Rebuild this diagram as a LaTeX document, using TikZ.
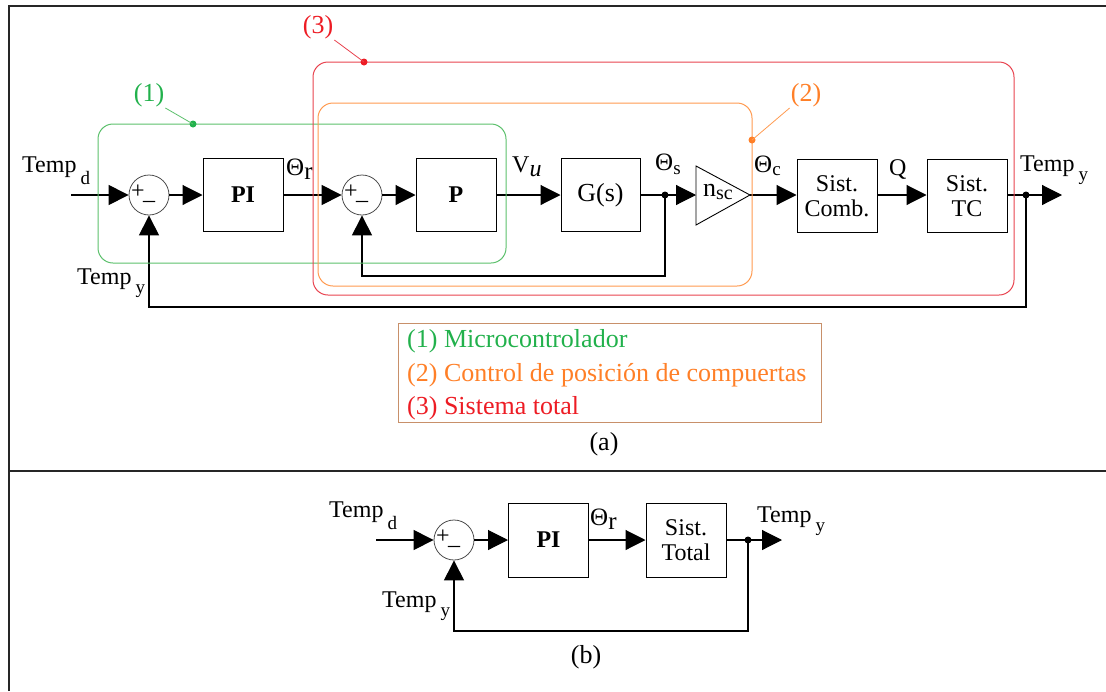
\documentclass[tikz,border=0pt]{standalone}
\usepackage{fontspec}
\setmainfont{Liberation Serif}
\usetikzlibrary{arrows.meta,calc}
\definecolor{cgreen}{HTML}{22B14C}
\definecolor{corange}{HTML}{FF7F27}
\definecolor{cred}{HTML}{ED1C24}
\definecolor{lgreen}{HTML}{5CC06C}
\definecolor{lorange}{HTML}{FF9A50}
\definecolor{lred}{HTML}{E8434F}
\definecolor{ltan}{HTML}{C8906A}
\newcommand\lowsub[2]{\raisebox{-#1}{\fontsize{19}{19}\selectfont #2}}
\begin{document}
\begin{tikzpicture}[x=1pt,y=-1pt,font=\fontsize{24}{25}\selectfont,
  block/.style={draw,line width=1pt,minimum width=80pt,minimum height=73pt,inner sep=0pt,align=center},
  sumnode/.style={circle,draw=black!70,line width=0.8pt,minimum size=40pt,inner sep=0pt},
  sig/.style={line width=1.1pt,-{Triangle[length=20pt,width=20pt]}},
  wire/.style={line width=1.1pt},
  junc/.style={circle,fill,inner sep=0pt,minimum size=7pt},
  lbl/.style={anchor=base west,inner sep=0pt},
  leg/.style={anchor=base west,inner sep=0pt,font=\fontsize{26}{26}\selectfont},
  pm/.style={inner sep=0pt,font=\fontsize{24}{24}\selectfont},
  grp/.style={line width=1pt,rounded corners=15pt},
  frame/.style={line width=2pt,draw=black!85}]
\useasboundingbox (0,0) rectangle (1106,691);
% frame
\draw[frame] (9,691) -- (9,6) -- (1106,6);
\draw[frame] (9,471) -- (1106,471);

% ---------- (a) ----------
\coordinate (in1) at (71,195);
\node[sumnode] (s1) at (149,195) {};
\node[block,font=\fontsize{24}{25}\selectfont\bfseries] (pi) at (243,195) {PI};
\node[sumnode] (s2) at (362,195) {};
\node[block,font=\fontsize{24}{25}\selectfont\bfseries] (p) at (456,195) {P};
\node[block,minimum width=79pt,font=\fontsize{26}{26}\selectfont] (g) at (600.5,195) {G(s)};
\coordinate (j1c) at (665,195);
\coordinate (ampL) at (696,195);
\coordinate (ampT) at (696,166);
\coordinate (ampB) at (696,225);
\coordinate (ampR) at (750,195);
\draw[line width=0.9pt] (ampT) -- (ampR) -- (ampB) -- cycle;
\node[inner sep=0pt,font=\fontsize{26}{26}\selectfont] (amp) at (718,192) {n\raisebox{-3pt}{\fontsize{20}{20}\selectfont sc}};
\node[block] (comb) at (837,196) {Sist.\\Comb.};
\node[block] (tc) at (967,196) {Sist.\\TC};
\coordinate (j2c) at (1026,195);
\coordinate (out1) at (1062,195);
\coordinate (fb1) at (362,276);
\coordinate (fb2) at (149,307);

\draw[sig] (in1) -- (s1);
\draw[sig] (s1) -- (pi);
\draw[sig] (pi) -- (s2);
\draw[sig] (s2) -- (p);
\draw[sig] (p) -- (g);
\draw[wire] (g) -- (j1c);
\draw[sig] (j1c) -- (ampL);
\draw[sig] (ampR) -- (comb.west |- ampR);
\draw[sig] (comb.east |- j2c) -- (tc.west |- j2c);
\draw[wire] (tc.east |- j2c) -- (j2c);
\draw[sig] (j2c) -- (out1);
\draw[sig] (j1c) |- (fb1) -- (s2.south);
\draw[sig] (j2c) |- (fb2) -- (s1.south);
\node[junc] (j1) at (j1c) {};
\node[junc] (j2) at (j2c) {};

\node[pm] (s1p) at ($(s1)+(-11,-3)$) {+};
\node[pm] (s1m) at ($(s1)+(0,6)$) {\_};
\node[pm] (s2p) at ($(s2)+(-11,-3)$) {+};
\node[pm] (s2m) at ($(s2)+(0,6)$) {\_};

% signal labels
\node[lbl] (tdlab) at (22,172) {Temp\,\lowsub{12pt}{d}};
\node[lbl] (tylab) at (77,284) {Temp\,\lowsub{9pt}{y}};
\node[lbl] (tyout) at (1020,171) {Temp\,\lowsub{9pt}{y}};
\node[lbl,font=\fontsize{25}{25}\selectfont] (threr) at (286,175) {Θ\raisebox{-4pt}{r}};
\node[lbl] (vulab) at (512,172) {V\raisebox{-4pt}{\itshape u}};
\node[lbl,font=\fontsize{25}{25}\selectfont] (thes) at (655,170) {Θ\lowsub{4pt}{s}};
\node[lbl,font=\fontsize{25}{25}\selectfont] (thec) at (754,172) {Θ\lowsub{3pt}{c}};
\node[lbl] (qlab) at (889,175) {Q};

% groups
\draw[grp,draw=lgreen] (98,124) rectangle (506,263);
\draw[grp,draw=lred] (313,62) rectangle (1014,295);
\draw[grp,draw=lorange] (318,103) rectangle (752,286);
\node[circle,fill=cgreen,inner sep=0pt,minimum size=7pt] (gd) at (193,124) {};
\node[circle,fill=cred,inner sep=0pt,minimum size=7pt] (rd) at (364,62) {};
\node[circle,fill=corange,inner sep=0pt,minimum size=7pt] (od) at (752,140) {};
\node[text=cgreen,inner sep=1pt,font=\fontsize{26}{26}\selectfont] (l1) at (149,95) {(1)};
\node[text=cred,inner sep=1pt,font=\fontsize{26}{26}\selectfont] (l3) at (318,27) {(3)};
\node[text=corange,inner sep=1pt,font=\fontsize{26}{26}\selectfont] (l2) at (806,95) {(2)};
\draw[lgreen,line width=0.8pt] (l1.south east) -- (gd.center);
\draw[lred,line width=0.8pt] (l3.south east) -- (rd.center);
\draw[lorange,line width=0.8pt] (l2.south west) -- (od.center);

% legend
\draw[ltan,line width=1pt] (398,323) rectangle (821,422);
\node[leg,text=cgreen] (leg1) at (407,347) {(1) Microcontrolador};
\node[leg,text=corange] (leg2) at (407,381) {(2) Control de posición de compuertas};
\node[leg,text=cred] (leg3) at (407,414) {(3) Sistema total};
\node[font=\fontsize{26}{26}\selectfont] (capa) at (604,444) {(a)};

% ---------- (b) ----------
\coordinate (in2) at (376,540);
\node[sumnode] (bs) at (454,540) {};
\node[block,minimum height=74pt,font=\fontsize{24}{25}\selectfont\bfseries] (bpi) at (548.5,540) {PI};
\node[block,minimum height=74pt] (btot) at (686,540) {Sist.\\Total};
\coordinate (bjc) at (748,540);
\coordinate (bout) at (782,540);
\coordinate (bfb) at (454,631);
\draw[sig] (in2) -- (bs);
\draw[sig] (bs) -- (bpi);
\draw[sig] (bpi) -- (btot);
\draw[wire] (btot) -- (bjc);
\draw[sig] (bjc) -- (bout);
\draw[sig] (bjc) |- (bfb) -- (bs.south);
\node[junc] (bj) at (bjc) {};
\node[pm] (bsp) at ($(bs)+(-11,-3)$) {+};
\node[pm] (bsm) at ($(bs)+(0,6)$) {\_};
\node[lbl] (btd) at (329,517) {Temp\,\lowsub{12pt}{d}};
\node[lbl] (btyo) at (757,522) {Temp\,\lowsub{9pt}{y}};
\node[lbl] (btyi) at (382,607) {Temp\,\lowsub{9pt}{y}};
\node[lbl,font=\fontsize{25}{25}\selectfont] (bthr) at (590,525) {Θ\raisebox{-4pt}{r}};
\node[font=\fontsize{26}{26}\selectfont] (capb) at (586,657) {(b)};
\end{tikzpicture}
\end{document}
